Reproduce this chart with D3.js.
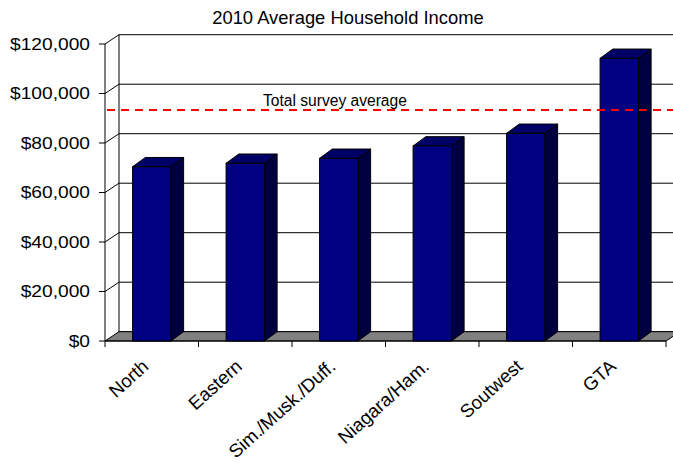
<!DOCTYPE html>
<html>
<head>
<meta charset="utf-8">
<script src="https://cdn.jsdelivr.net/npm/d3@7"></script>
<style>
  html, body { margin: 0; padding: 0; background: #fff; }
  svg { display: block; font-family: "Liberation Sans", Arial, sans-serif; }
</style>
</head>
<body>
<svg id="chart" width="673" height="463"></svg>
<script>
// Regional average household income, 2010
const regions = ["North", "Eastern", "Sim./Musk./Duff.", "Niagara/Ham.", "Soutwest", "GTA"];
const incomes = [70400, 71800, 73800, 78800, 83900, 114200];
const surveyAverage = 93300;
const surveyLabel = "Total survey average";
const yTicks = [0, 20000, 40000, 60000, 80000, 100000, 120000];
const titleText = "2010 Average Household Income";

const svg = d3.select("#chart");
const W = 673, H = 463;

// front plane of the 3-D box, plus the depth offset to the back wall
const plotLeft = 105, plotRight = 666, plotBase = 341, plotTop = 44;
const depth = { dx: 14, dy: -9.3 };
const barDepth = { dx: 12.7, dy: -9.3 };
const sx = 1.2; // horizontal stretch of the value labels

const x = d3.scaleBand().domain(regions).range([plotLeft, plotRight])
  .paddingInner(0.59).paddingOuter(0.295);
const xStep = x.step();
const y = d3.scaleLinear().domain([0, 120000]).range([plotBase, plotTop]);
const fmt = v => "$" + d3.format(",")(v);

// back wall
svg.append("rect")
  .attr("x", plotLeft + depth.dx).attr("y", plotTop + depth.dy)
  .attr("width", plotRight - plotLeft).attr("height", plotBase - plotTop)
  .attr("fill", "#fff").attr("stroke", "#000").attr("stroke-width", 1);

// gridlines on the back wall
svg.append("g").selectAll("line")
  .data(yTicks.filter(t => t > 0 && t < 120000))
  .join("line")
  .attr("x1", plotLeft + depth.dx).attr("x2", plotRight + depth.dx)
  .attr("y1", d => y(d) + depth.dy).attr("y2", d => y(d) + depth.dy)
  .attr("stroke", "#000").attr("stroke-width", 1);

// side wall: connectors from the front axis to the back wall
svg.append("g").selectAll("line")
  .data(yTicks.filter(t => t > 0))
  .join("line")
  .attr("x1", plotLeft).attr("x2", plotLeft + depth.dx)
  .attr("y1", d => y(d)).attr("y2", d => y(d) + depth.dy)
  .attr("stroke", "#000").attr("stroke-width", 1);

// floor
svg.append("path")
  .attr("d", d3.line()([
    [plotLeft, plotBase], [plotRight, plotBase],
    [plotRight + depth.dx, plotBase + depth.dy], [plotLeft + depth.dx, plotBase + depth.dy]
  ]) + "Z")
  .attr("fill", "#808080").attr("stroke", "#000").attr("stroke-width", 1);

// front vertical axis with ticks
svg.append("line")
  .attr("x1", plotLeft).attr("x2", plotLeft).attr("y1", y(120000)).attr("y2", plotBase)
  .attr("stroke", "#000");
svg.append("g").selectAll("line")
  .data(yTicks).join("line")
  .attr("x1", plotLeft - 6).attr("x2", plotLeft)
  .attr("y1", d => y(d)).attr("y2", d => y(d))
  .attr("stroke", "#000");
svg.append("g").selectAll("text")
  .data(yTicks).join("text")
  .attr("transform", d => `translate(${plotLeft - 15},${y(d)}) scale(${sx},1)`)
  .attr("dy", "0.36em")
  .attr("text-anchor", "end")
  .attr("font-size", 16)
  .attr("fill", "#000")
  .text(fmt);

// front horizontal axis with ticks at category boundaries
svg.append("line")
  .attr("x1", plotLeft).attr("x2", plotRight).attr("y1", plotBase).attr("y2", plotBase)
  .attr("stroke", "#000");
svg.append("g").selectAll("line")
  .data(d3.range(regions.length + 1)).join("line")
  .attr("x1", i => plotLeft + i * xStep).attr("x2", i => plotLeft + i * xStep)
  .attr("y1", plotBase).attr("y2", plotBase + 6)
  .attr("stroke", "#000");

// 3-D bars: front, side and top faces
const bars = svg.append("g").selectAll("g")
  .data(regions.map((r, i) => ({ r, v: incomes[i] })))
  .join("g");
bars.append("path") // top
  .attr("d", d => {
    const x0 = x(d.r), x1 = x0 + x.bandwidth(), yt = y(d.v);
    return d3.line()([[x0, yt], [x1, yt], [x1 + barDepth.dx, yt + barDepth.dy], [x0 + barDepth.dx, yt + barDepth.dy]]) + "Z";
  })
  .attr("fill", "#000066").attr("stroke", "#000").attr("stroke-linejoin", "round");
bars.append("path") // side
  .attr("d", d => {
    const x1 = x(d.r) + x.bandwidth(), yt = y(d.v);
    return d3.line()([[x1, yt], [x1 + barDepth.dx, yt + barDepth.dy], [x1 + barDepth.dx, plotBase + barDepth.dy], [x1, plotBase]]) + "Z";
  })
  .attr("fill", "#000040").attr("stroke", "#000").attr("stroke-linejoin", "round");
bars.append("rect") // front
  .attr("x", d => x(d.r)).attr("y", d => y(d.v))
  .attr("width", x.bandwidth()).attr("height", d => plotBase - y(d.v))
  .attr("fill", "#000080").attr("stroke", "#000");

// category labels, rotated
svg.append("g").selectAll("text")
  .data(regions).join("text")
  .attr("transform", d => `translate(${x(d) + x.bandwidth() / 2 - 2},${plotBase + 27}) rotate(-42)`)
  .attr("text-anchor", "end")
  .attr("font-size", 18.6)
  .attr("fill", "#000")
  .text(d => d);

// survey average reference line
svg.append("line")
  .attr("x1", plotLeft + 2).attr("x2", W)
  .attr("y1", y(surveyAverage)).attr("y2", y(surveyAverage))
  .attr("stroke", "#ff0000").attr("stroke-width", 2)
  .attr("stroke-dasharray", "8,6");
svg.append("text")
  .attr("x", 263).attr("y", y(surveyAverage) - 4)
  .attr("font-size", 15.6)
  .attr("fill", "#000")
  .text(surveyLabel);

// title
svg.append("text")
  .attr("x", 348).attr("y", 24)
  .attr("text-anchor", "middle")
  .attr("font-size", 18.4)
  .attr("fill", "#000")
  .text(titleText);
</script>
</body>
</html>
